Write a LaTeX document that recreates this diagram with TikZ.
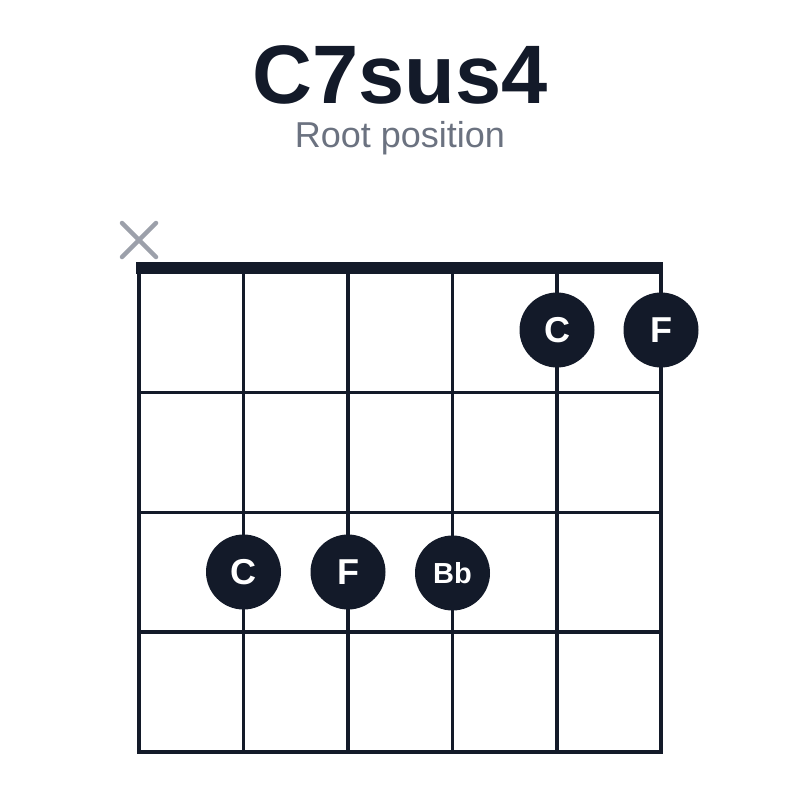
\documentclass[tikz,border=0pt]{standalone}
\usepackage{fontspec}
\setmainfont{Liberation Sans}
\definecolor{ink}{HTML}{131A29}
\definecolor{xgray}{HTML}{9CA0AA}
\definecolor{subgray}{HTML}{6B7280}
\tikzset{
  gridline/.style={draw=ink, line width=3.8pt},
  nutbar/.style={fill=ink},
  notedot/.style={circle, fill=ink, minimum size=75pt, inner sep=0pt, text=white, font=\bfseries\fontsize{36}{36}\selectfont},
  smalldot/.style={notedot, font=\bfseries\fontsize{29}{29}\selectfont},
  mutemark/.style={draw=xgray, line width=4.5pt, line cap=round}
}
\begin{document}
\begin{tikzpicture}[x=1pt,y=-1pt]
\useasboundingbox (0,0) rectangle (800,800);
\fill[white] (0,0) rectangle (800,800);
% title
\node[text=ink, font=\bfseries\fontsize{83}{83}\selectfont, anchor=base] (title) at (400,103) {C7sus4};
\node[text=subgray, font=\fontsize{36}{36}\selectfont, anchor=base] (sub) at (400,147) {Root position};
% strings
\foreach \x in {139,243.5,348,452.5,557,661}
  \draw[gridline] (\x,268) -- (\x,753.9);
% frets
\foreach \y in {392.5,512.5,632,752}
  \draw[gridline] (137.1,\y) -- (662.9,\y);
% nut
\fill[nutbar] (136,262) rectangle (663,273.5);
% mute mark
\draw[mutemark] (122,223) -- (156,257);
\draw[mutemark] (156,223) -- (122,257);
\coordinate (mute) at (139,240);
% dots
\node[notedot] (c1) at (557,330) {C};
\node[notedot] (f1) at (661,330) {F};
\node[notedot] (c3) at (243.5,572) {C};
\node[notedot] (f3) at (348,572) {F};
\node[smalldot] (bb3) at (452.5,573) {Bb};
\end{tikzpicture}
\end{document}
